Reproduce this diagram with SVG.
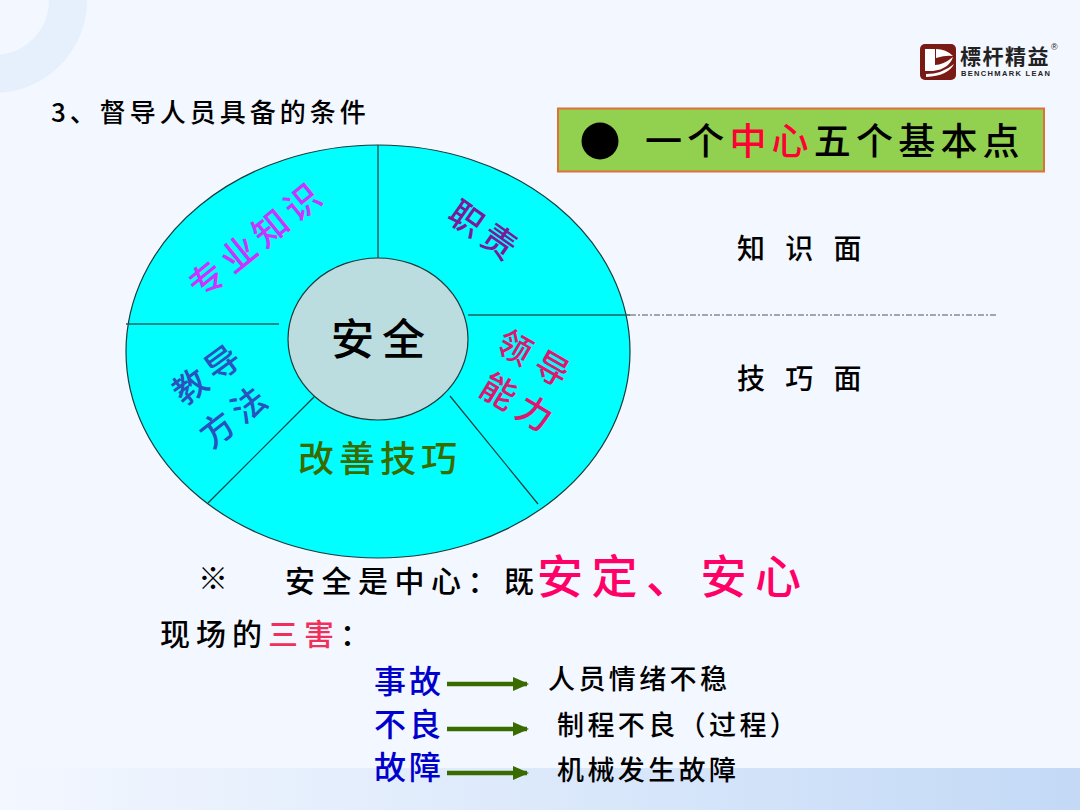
<svg xmlns="http://www.w3.org/2000/svg" width="1080" height="810" viewBox="0 0 1080 810">
<defs>
<linearGradient id="band" x1="0" y1="0" x2="1" y2="0"><stop offset="0" stop-color="#F3F7FF"/><stop offset="0.5" stop-color="#DCE9FB"/><stop offset="1" stop-color="#C3D9F6"/></linearGradient>
<marker id="arrow" markerUnits="userSpaceOnUse" markerWidth="16" markerHeight="16" refX="14" refY="8" orient="auto"><path d="M0 1L16 8L0 15Z" fill="#3A6B00"/></marker>
</defs>
<style>
text{font-family:"Noto Sans CJK SC","Noto Sans",sans-serif;font-weight:500;fill:#000}
.s{stroke:#1F5F63;fill:none;stroke-width:1.5}
.t{stroke:#1A3A3A;fill:none;stroke-width:1.2}
.a{stroke:#3A6B00;stroke-width:4.5;fill:none;marker-end:url(#arrow)}
.seg{font-size:35px;letter-spacing:5px;text-anchor:middle}
.blue{font-size:32px;letter-spacing:3px;fill:#0000CC}
.r{font-size:27px;letter-spacing:3.4px}
</style>
<rect width="1080" height="810" fill="#F3F7FF"/>
<circle cx="-6" cy="0" r="74" fill="none" stroke="#E6F0FD" stroke-width="38"/>
<rect x="0" y="768" width="1080" height="42" fill="url(#band)"/>
<g id="logo">
<rect x="920" y="44" width="36" height="36" rx="5" fill="#7A1A14"/>
<path d="M925 49h10v16q8 0 18-8q-4 12-20 14h-8Z" fill="#fff"/>
<path d="M926 74q16 0 28-10q-6 12-28 13Z" fill="#fff"/>
<path d="M936 49q10 0 17 7q-7-1-17 2Z" fill="#fff"/>
<text x="960" y="64" style="font-size:21px;font-weight:700;letter-spacing:1.500px;fill:#222">標杆精益</text>
<text x="961" y="76" style="font-family:'Liberation Sans',sans-serif;font-size:7.500px;font-weight:700;fill:#222" textLength="89">BENCHMARK LEAN</text>
<text x="1051" y="50" style="font-family:'Liberation Sans',sans-serif;font-size:9px;fill:#222">®</text>
</g>
<g id="title"><text x="51" y="122" style="font-size:26px;letter-spacing:4px">3、督导人员具备的条件</text></g>
<g id="banner">
<rect x="558" y="108.500" width="486" height="63" fill="#92D050" stroke="#E0703A" stroke-width="2"/>
<circle cx="600" cy="141" r="18.500" fill="#000"/>
<text x="645" y="155" style="font-size:37px;letter-spacing:5.200px">一个<tspan fill="#FF0033">中心</tspan>五个基本点</text>
</g>
<g id="wheel">
<ellipse cx="378" cy="351.500" rx="252" ry="206.500" fill="#00FFFF" stroke="#1A3A3A" stroke-width="1.200"/>
</g>
<g id="connectors">
<path class="s" d="M378 145V258"/>
<path class="s" d="M126 324H279"/>
<path class="s" d="M468 315H630"/>
<path class="t" d="M208 503L314 397"/>
<path class="t" d="M450 396L538 504"/>
<path d="M630 315H997" stroke="#555" stroke-width="1" stroke-dasharray="6 2 2 2" fill="none"/>
<path class="a" d="M447 684H527"/>
<path class="a" d="M447 729H527"/>
<path class="a" d="M447 773H527"/>
</g>
<g id="center">
<ellipse cx="378" cy="339" rx="90" ry="81" fill="#BBDDE0" stroke="#1A3A3A" stroke-width="1.200"/>
<text x="331" y="355" style="font-size:43px;letter-spacing:8px">安全</text>
</g>
<g id="seg-zhuanye"><text class="seg" transform="translate(265 249) rotate(-39)" style="fill:#CC33FF;font-size:35px;letter-spacing:6px">专业知识</text></g>
<g id="seg-zhize"><text class="seg" transform="translate(478 242) rotate(35)" style="fill:#7A1A9A;font-size:34px;letter-spacing:6px">职责</text></g>
<g id="seg-lingdao"><text class="seg" transform="translate(531 371) rotate(30)" style="fill:#E0156E;font-size:34px;letter-spacing:9px">领导</text></g>
<g id="seg-nengli"><text class="seg" transform="translate(513 415) rotate(31)" style="fill:#E0156E;font-size:35px;letter-spacing:7px">能力</text></g>
<g id="seg-jiaodao"><text class="seg" transform="translate(216 383) rotate(-36)" style="fill:#2A52BE;font-size:34px;letter-spacing:6px">教导</text></g>
<g id="seg-fangfa"><text class="seg" transform="translate(243 425) rotate(-38)" style="fill:#2A52BE;font-size:34px;letter-spacing:6px">方法</text></g>
<g id="seg-gaishan"><text class="seg" x="380" y="472" style="fill:#3A6B00;font-size:36px;letter-spacing:5px">改善技巧</text></g>
<g id="notes">
<text x="737" y="259" style="font-size:28px;letter-spacing:7px" xml:space="preserve">知 识 面</text>
<text x="737" y="389" style="font-size:28px;letter-spacing:7px" xml:space="preserve">技 巧 面</text>
<text x="198" y="589" style="font-size:30px">※</text>
<text x="285" y="592" style="font-size:30px;letter-spacing:6.500px">安全是中心：既</text>
<text x="537" y="593" style="font-size:46px;letter-spacing:8.500px;fill:#FF0066">安定、安心</text>
<text x="160" y="645" style="font-size:30px;letter-spacing:6px">现场的<tspan fill="#F0305A">三害</tspan>：</text>
</g>
<g id="row1"><text class="blue" x="374" y="693">事故</text><text class="r" x="548" y="689">人员情绪不稳</text></g>
<g id="row2"><text class="blue" x="374" y="736">不良</text><text class="r" x="557" y="735">制程不良（过程）</text></g>
<g id="row3"><text class="blue" x="374" y="779">故障</text><text class="r" x="557" y="780">机械发生故障</text></g>
</svg>
